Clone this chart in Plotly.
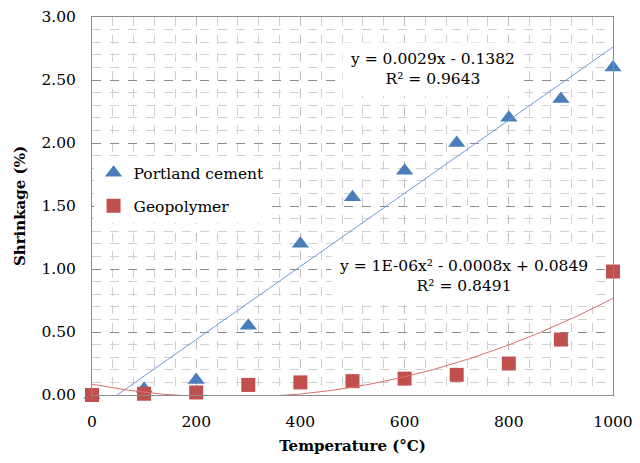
import numpy as np
import plotly.graph_objects as go

temperature = [0, 100, 200, 300, 400, 500, 600, 700, 800, 900, 1000]
portland = [0.0, 0.05, 0.12, 0.55, 1.20, 1.57, 1.78, 2.00, 2.20, 2.35, 2.60]
geopolymer = [0.0, 0.01, 0.02, 0.08, 0.10, 0.11, 0.13, 0.16, 0.25, 0.44, 0.98]

eq_portland = "y = 0.0029x - 0.1382<br>R² = 0.9643"
eq_geo = "y = 1E-06x² - 0.0008x + 0.0849<br>R² = 0.8491"

BLUE = "#4A7EBB"
RED = "#C0504D"
FONT = "DejaVu Serif"

xs = np.linspace(0, 1000, 401)
p_lin = np.polyfit(temperature, portland, 1)
p_quad = np.polyfit(temperature, geopolymer, 2)

fig = go.Figure()
fig.add_trace(go.Scatter(x=temperature, y=portland, mode="markers", name="Portland cement",
                         cliponaxis=False, legendgroup="a",
                         marker=dict(symbol="triangle-up", size=15, color=BLUE)))
fig.add_trace(go.Scatter(x=temperature, y=geopolymer, mode="markers", name="Geopolymer",
                         cliponaxis=False, legendgroup="b",
                         marker=dict(symbol="square", size=14, color=RED)))
fig.add_trace(go.Scatter(x=xs, y=np.polyval(p_lin, xs), mode="lines", showlegend=False,
                         line=dict(color="#6F9BD4", width=1), hoverinfo="skip"))
fig.add_trace(go.Scatter(x=xs, y=np.polyval(p_quad, xs), mode="lines", showlegend=False,
                         line=dict(color="#D9706C", width=1), hoverinfo="skip"))

fig.add_annotation(x=654, y=2.59, xref="x", yref="y", text=eq_portland, showarrow=False,
                   font=dict(family=FONT, size=15.5, color="black"), bgcolor="white", borderpad=7)
fig.add_annotation(x=714, y=0.948, xref="x", yref="y", text=eq_geo, showarrow=False,
                   font=dict(family=FONT, size=15.5, color="black"), bgcolor="white", borderpad=7)

fig.update_layout(
    width=640, height=463,
    margin=dict(l=92, r=27, t=17, b=68, autoexpand=False),
    plot_bgcolor="white", paper_bgcolor="white",
    font=dict(family=FONT, size=15.5, color="black"),
    legend=dict(x=0.003, y=0.632, xanchor="left", yanchor="top", bgcolor="white",
                font=dict(family=FONT, size=15.5, color="black"), itemwidth=30,
                traceorder="grouped", tracegroupgap=10),
    xaxis=dict(range=[0, 1000], dtick=200, tickformat="d", automargin=False,
               showgrid=True, gridcolor="#BDBDBD", griddash="dash", gridwidth=1,
               minor=dict(dtick=40, showgrid=True, gridcolor="#CFCFCF", griddash="dash", gridwidth=1),
               showline=True, linecolor="#8C8C8C", linewidth=1, mirror=True,
               ticks="", ticklabelstandoff=12, zeroline=False,
               title=dict(text="<b>Temperature (°C)</b>", font=dict(family=FONT, size=15), standoff=10)),
    yaxis=dict(range=[0, 3], dtick=0.5, tickformat=".2f", automargin=False,
               showgrid=True, gridcolor="#8C8C8C", griddash="dash", gridwidth=1,
               minor=dict(dtick=0.1, showgrid=True, gridcolor="#D0D0D0", gridwidth=1),
               showline=True, linecolor="#8C8C8C", linewidth=1, mirror=True,
               ticks="", ticklabelstandoff=12, zeroline=False,
               title=dict(text="<b>Shrinkage (%)</b>", font=dict(family=FONT, size=15), standoff=12)),
)

fig.write_html("out.html")
